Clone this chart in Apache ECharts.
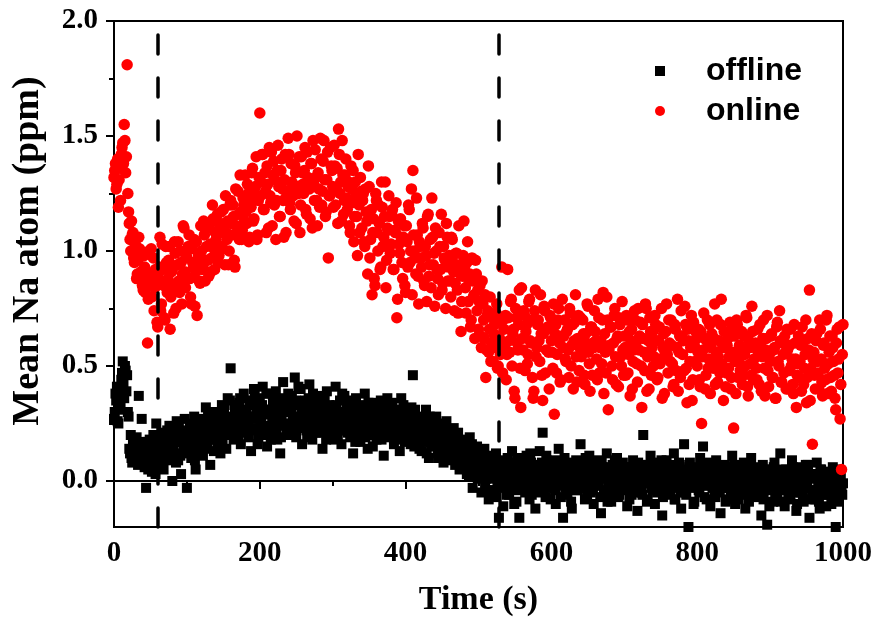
<!DOCTYPE html>
<html>
<head>
<meta charset="utf-8">
<title>Mean Na atom</title>
<script src="https://cdn.jsdelivr.net/npm/echarts@6/dist/echarts.min.js"></script>
<style>
  html, body { margin: 0; padding: 0; background: #fff; }
  #chart { width: 880px; height: 628px; }
</style>
</head>
<body>
<div id="chart"></div>
<script>
// recorder gives one reading per second; values are split into even and odd seconds
const sampleStep = 2;

// offline, t = 0, 2, 4 ... 1000 s
const offlineEven = [
  0.27, 0.38, 0.41, 0.25, 0.31, 0.44, 0.52, 0.36, 0.48, 0.46,
  0.28, 0.12, 0.10, 0.18, 0.14, 0.09, 0.15, 0.37, 0.11, 0.27,
  0.13, 0.06, -0.03, 0.17, 0.09, 0.14, 0.04, 0.20, 0.12, 0.25,
  0.08, 0.16, 0.11, 0.21, 0.05, 0.13, 0.18, 0.10, 0.24, 0.15,
  0.00, 0.19, 0.12, 0.26, 0.09, 0.17, 0.03, 0.22, 0.14, 0.20,
  -0.03, 0.16, 0.24, 0.10, 0.19, 0.28, 0.05, 0.13, 0.22, 0.17,
  0.26, 0.11, 0.20, 0.32, 0.15, 0.24, 0.07, 0.29, 0.18, 0.23,
  0.30, 0.16, 0.25, 0.12, 0.33, 0.21, 0.27, 0.14, 0.36, 0.22,
  0.49, 0.25, 0.18, 0.31, 0.23, 0.28, 0.34, 0.16, 0.26, 0.38,
  0.21, 0.30, 0.25, 0.35, 0.13, 0.28, 0.40, 0.22, 0.32, 0.19,
  0.36, 0.27, 0.41, 0.24, 0.31, 0.15, 0.38, 0.29, 0.22, 0.34,
  0.26, 0.39, 0.18, 0.32, 0.12, 0.28, 0.43, 0.24, 0.35, 0.20,
  0.30, 0.23, 0.37, 0.27, 0.45, 0.19, 0.33, 0.25, 0.40, 0.16,
  0.29, 0.35, 0.22, 0.31, 0.42, 0.26, 0.18, 0.34, 0.24, 0.30,
  0.37, 0.21, 0.28, 0.14, 0.33, 0.25, 0.39, 0.20, 0.30, 0.26,
  0.32, 0.18, 0.41, 0.27, 0.23, 0.35, 0.16, 0.29, 0.37, 0.22,
  0.26, 0.33, 0.19, 0.30, 0.12, 0.28, 0.36, 0.24, 0.31, 0.17,
  0.29, 0.22, 0.38, 0.25, 0.14, 0.32, 0.27, 0.20, 0.34, 0.23,
  0.18, 0.30, 0.26, 0.35, 0.21, 0.11, 0.28, 0.24, 0.33, 0.19,
  0.27, 0.34, 0.16, 0.25, 0.30, 0.22, 0.13, 0.36, 0.24, 0.20,
  0.29, 0.18, 0.26, 0.21, 0.32, 0.46, 0.15, 0.24, 0.19, 0.28,
  0.22, 0.13, 0.27, 0.18, 0.31, 0.20, 0.10, 0.25, 0.16, 0.23,
  0.19, 0.28, 0.12, 0.21, 0.15, 0.24, 0.08, 0.18, 0.26, 0.13,
  0.20, 0.11, 0.17, 0.23, 0.07, 0.15, 0.21, 0.05, 0.14, 0.18,
  0.10, 0.16, 0.03, 0.13, 0.19, 0.08, -0.03, 0.12, 0.06, 0.15,
  0.04, 0.11, -0.05, 0.08, 0.14, 0.01, 0.07, -0.08, 0.10, 0.03,
  0.06, -0.04, 0.12, 0.00, -0.16, 0.08, 0.02, -0.11, 0.05, -0.02,
  0.10, -0.06, 0.03, 0.13, -0.01, 0.07, -0.09, 0.04, -0.16, 0.09,
  0.00, 0.06, -0.05, 0.11, 0.02, -0.08, 0.08, -0.02, 0.05, -0.12,
  0.07, 0.01, 0.13, -0.04, 0.21, 0.03, -0.07, 0.09, -0.01, 0.05,
  -0.03, 0.08, 0.02, -0.10, 0.06, 0.14, -0.02, 0.04, -0.16, 0.10,
  0.01, -0.06, 0.07, 0.03, -0.12, 0.05, -0.01, 0.09, -0.04, 0.02,
  0.16, -0.03, 0.04, -0.08, 0.08, 0.00, 0.11, -0.05, 0.03, -0.10,
  0.05, -0.02, 0.09, 0.01, -0.14, 0.06, -0.06, 0.03, 0.12, -0.01,
  0.04, -0.09, 0.07, -0.03, 0.02, 0.10, -0.07, 0.05, -0.01, 0.08,
  -0.04, 0.03, -0.11, 0.06, 0.01, -0.06, 0.09, -0.02, 0.04, -0.13,
  0.02, 0.07, -0.05, 0.20, -0.01, 0.05, -0.08, 0.03, 0.11, -0.03,
  0.06, -0.10, 0.01, 0.08, -0.04, 0.03, -0.15, 0.05, -0.02, 0.09,
  -0.06, 0.02, 0.07, -0.03, 0.12, -0.08, 0.04, -0.01, 0.06, -0.12,
  0.03, 0.16, -0.05, 0.01, -0.20, 0.08, -0.02, 0.05, -0.09, 0.02,
  0.06, -0.04, 0.10, 0.00, 0.15, -0.07, 0.03, -0.02, 0.08, -0.11,
  0.01, 0.05, -0.06, 0.09, -0.01, 0.03, -0.14, 0.04, -0.03, 0.07,
  -0.08, 0.02, 0.06, -0.04, 0.11, -0.01, -0.10, 0.04, 0.00, -0.06,
  0.05, -0.02, 0.08, -0.12, 0.01, 0.04, -0.05, 0.10, -0.03, 0.02,
  -0.07, 0.06, -0.01, 0.03, -0.15, 0.07, -0.04, 0.01, -0.19, 0.05,
  -0.02, 0.04, -0.09, 0.08, 0.00, -0.05, 0.03, 0.12, -0.03, 0.01,
  -0.11, 0.05, -0.02, 0.02, -0.07, 0.09, -0.04, 0.00, -0.13, 0.03,
  0.06, -0.05, 0.01, -0.09, 0.04, -0.02, 0.07, -0.16, 0.02, -0.04,
  0.03, -0.08, 0.08, -0.01, -0.12, 0.05, -0.03, 0.01, -0.06, 0.04,
  -0.02, 0.02, -0.10, 0.06, -0.04, -0.20, 0.01, -0.07, 0.03, -0.05,
  -0.01
];

// offline, t = 1, 3, 5 ... 999 s
const offlineOdd = [
  0.30, 0.35, 0.26, 0.40, 0.33, 0.47, 0.42, 0.50, 0.39, 0.30,
  0.14, 0.20, 0.08, 0.16, 0.11, 0.19, 0.07, 0.13, 0.17, 0.10,
  0.15, 0.09, 0.12, 0.05, 0.18, 0.11, 0.07, 0.16, 0.03, 0.13,
  0.14, 0.10, 0.19, 0.07, 0.16, 0.12, 0.22, 0.09, 0.15, 0.18,
  0.13, 0.21, 0.08, 0.17, 0.24, 0.11, 0.19, 0.14, 0.27, 0.16,
  0.18, 0.12, 0.21, 0.15, 0.25, 0.09, 0.20, 0.26, 0.14, 0.23,
  0.19, 0.27, 0.14, 0.22, 0.30, 0.18, 0.25, 0.21, 0.13, 0.28,
  0.24, 0.19, 0.29, 0.23, 0.17, 0.31, 0.26, 0.20, 0.28, 0.35,
  0.27, 0.21, 0.33, 0.24, 0.30, 0.19, 0.36, 0.25, 0.29, 0.22,
  0.31, 0.26, 0.19, 0.33, 0.28, 0.23, 0.37, 0.27, 0.16, 0.30,
  0.25, 0.33, 0.20, 0.29, 0.38, 0.23, 0.31, 0.18, 0.27, 0.35,
  0.30, 0.22, 0.34, 0.27, 0.19, 0.36, 0.25, 0.31, 0.21, 0.38,
  0.24, 0.32, 0.28, 0.20, 0.35, 0.26, 0.41, 0.23, 0.30, 0.27,
  0.33, 0.25, 0.19, 0.36, 0.28, 0.23, 0.38, 0.30, 0.21, 0.34,
  0.26, 0.32, 0.23, 0.29, 0.36, 0.18, 0.27, 0.33, 0.24, 0.31,
  0.27, 0.24, 0.33, 0.20, 0.30, 0.26, 0.38, 0.22, 0.28, 0.34,
  0.21, 0.29, 0.25, 0.35, 0.23, 0.17, 0.31, 0.26, 0.20, 0.33,
  0.25, 0.30, 0.19, 0.28, 0.34, 0.22, 0.26, 0.15, 0.29, 0.24,
  0.27, 0.21, 0.32, 0.18, 0.25, 0.30, 0.20, 0.36, 0.23, 0.28,
  0.22, 0.29, 0.25, 0.18, 0.31, 0.20, 0.27, 0.23, 0.33, 0.17,
  0.24, 0.20, 0.29, 0.16, 0.26, 0.22, 0.31, 0.19, 0.25, 0.14,
  0.20, 0.26, 0.17, 0.23, 0.12, 0.21, 0.28, 0.15, 0.24, 0.19,
  0.16, 0.22, 0.10, 0.19, 0.25, 0.14, 0.20, 0.11, 0.17, 0.22,
  0.13, 0.18, 0.09, 0.16, 0.12, 0.20, 0.08, 0.15, 0.11, 0.06,
  0.14, 0.07, 0.11, 0.02, 0.10, 0.16, 0.05, 0.09, 0.13, 0.01,
  0.08, 0.02, 0.12, 0.05, -0.02, 0.09, 0.04, 0.11, -0.04, 0.06,
  0.01, 0.07, -0.07, 0.04, 0.09, -0.03, 0.05, 0.00, 0.08, -0.06,
  0.03, 0.08, -0.02, 0.05, -0.10, 0.01, 0.10, -0.04, 0.06, 0.00,
  0.04, -0.03, 0.09, -0.01, 0.05, 0.12, -0.06, 0.02, 0.07, -0.02,
  -0.05, 0.04, 0.00, 0.08, -0.03, 0.06, 0.11, -0.01, 0.03, -0.08,
  0.05, 0.01, -0.04, 0.09, -0.01, 0.03, -0.07, 0.06, 0.02, -0.03,
  0.07, -0.02, 0.04, -0.09, 0.02, 0.08, -0.04, 0.00, 0.05, -0.01,
  0.02, 0.06, -0.03, 0.10, -0.06, 0.03, -0.01, 0.07, -0.04, 0.04,
  -0.02, 0.05, 0.00, -0.07, 0.08, 0.02, -0.04, 0.06, -0.09, 0.03,
  0.01, -0.05, 0.04, 0.09, -0.02, 0.03, -0.06, 0.00, 0.07, -0.03,
  0.05, -0.01, 0.02, -0.08, 0.06, -0.03, 0.04, 0.00, -0.05, 0.08,
  -0.02, 0.03, -0.06, 0.05, 0.01, -0.09, 0.07, -0.01, 0.02, -0.04,
  0.04, 0.00, -0.05, 0.06, -0.02, 0.09, -0.07, 0.01, 0.05, -0.03,
  0.02, -0.04, 0.06, 0.00, -0.08, 0.04, -0.01, 0.08, -0.05, 0.03,
  -0.01, 0.05, -0.06, 0.02, 0.07, -0.03, 0.01, -0.10, 0.04, 0.00,
  0.03, -0.05, 0.01, 0.07, -0.02, 0.04, -0.08, 0.02, -0.01, 0.06,
  -0.03, 0.02, -0.07, 0.04, 0.00, -0.05, 0.06, -0.02, 0.03, -0.09,
  0.01, -0.03, 0.05, -0.06, 0.02, 0.07, -0.04, 0.00, -0.08, 0.04,
  -0.02, 0.03, -0.05, 0.01, 0.06, -0.09, 0.02, -0.03, 0.05, -0.01,
  0.02, -0.06, 0.04, -0.02, 0.00, -0.08, 0.05, -0.04, 0.01, -0.11,
  0.03, -0.03, 0.06, -0.07, 0.01, -0.02, 0.04, -0.09, 0.00, 0.05,
  -0.04, 0.02, -0.08, 0.03, -0.01, 0.06, -0.05, 0.01, -0.10, 0.02,
  -0.02, 0.04, -0.06, 0.00, 0.07, -0.03, 0.02, -0.08, 0.03, -0.05,
  0.01, -0.04, 0.03, -0.09, 0.05, -0.02, -0.06, 0.02, -0.11, 0.00,
  -0.03, 0.04, -0.07, 0.01, -0.02, 0.05, -0.09, -0.01, 0.02, -0.06
];

// online, t = 0, 2, 4 ... 1000 s
const onlineEven = [
  1.32, 1.38, 1.29, 1.19, 1.36, 1.42, 1.47, 1.55, 1.34, 1.81,
  1.17, 1.05, 1.13, 1.08, 0.95, 1.02, 0.90, 1.06, 0.89, 0.99,
  0.83, 0.93, 0.88, 0.60, 1.00, 0.86, 0.80, 0.97, 0.84, 0.90,
  0.67, 0.93, 0.74, 1.03, 0.85, 0.70, 0.95, 0.88, 1.02, 0.80,
  0.92, 0.73, 0.99, 0.86, 1.04, 0.82, 0.95, 0.90, 1.10, 0.84,
  0.97, 1.02, 0.88, 0.77, 0.95, 1.05, 0.91, 0.72, 0.98, 0.86,
  1.00, 0.93, 1.07, 0.96, 1.12, 0.89, 1.03, 0.97, 1.14, 0.92,
  1.05, 1.16, 0.98, 1.10, 1.02, 1.18, 0.94, 1.08, 1.13, 1.00,
  1.22, 1.07, 1.15, 0.93, 1.11, 1.26, 1.05, 1.17, 1.09, 1.20,
  1.33, 1.12, 1.25, 1.06, 1.19, 1.36, 1.14, 1.28, 1.05, 1.22,
  1.60, 1.30, 1.42, 1.18, 1.26, 1.37, 1.10, 1.24, 1.43, 1.33,
  1.20, 1.05, 1.35, 1.28, 1.15, 1.40, 1.22, 1.31, 1.08, 1.26,
  1.42, 1.18, 1.30, 1.24, 1.37, 1.12, 1.28, 1.41, 1.20, 1.34,
  1.25, 1.45, 1.16, 1.32, 1.27, 1.38, 1.10, 1.29, 1.44, 1.22,
  1.34, 1.19, 1.40, 1.26, 1.48, 1.15, 1.31, 0.97, 1.24, 1.37,
  1.28, 1.46, 1.20, 1.36, 1.53, 1.25, 1.13, 1.33, 1.22, 1.40,
  1.18, 1.30, 1.08, 1.27, 1.35, 1.15, 1.24, 0.98, 1.20, 1.32,
  1.10, 1.25, 1.02, 1.17, 0.90, 1.28, 1.05, 0.81, 1.14, 0.85,
  1.22, 1.00, 1.12, 0.93, 1.19, 1.06, 1.30, 0.96, 1.09, 1.15,
  1.03, 1.18, 0.92, 1.08, 0.71, 1.13, 0.99, 1.06, 0.88, 1.11,
  0.82, 1.04, 1.20, 0.95, 1.27, 1.35, 1.00, 0.90, 1.07, 0.77,
  1.02, 0.93, 1.10, 0.85, 0.98, 1.15, 0.89, 1.05, 1.23, 0.94,
  0.76, 1.00, 0.88, 1.08, 0.92, 0.83, 1.02, 0.96, 1.12, 0.87,
  0.98, 0.80, 1.05, 0.91, 0.86, 0.99, 0.73, 0.94, 0.65, 0.89,
  1.13, 0.84, 0.95, 0.78, 0.90, 0.70, 0.87, 0.81, 0.96, 0.74,
  0.66, 0.85, 0.58, 0.77, 0.62, 0.45, 0.72, 0.56, 0.80, 0.60,
  0.52, 0.68, 0.73, 0.49, 0.63, 0.55, 0.93, 0.70, 0.58, 0.44,
  0.92, 0.61, 0.78, 0.50, 0.66, 0.36, 0.71, 0.57, 0.83, 0.32,
  0.62, 0.74, 0.48, 0.68, 0.55, 0.79, 0.60, 0.45, 0.39, 0.83,
  0.58, 0.70, 0.52, 0.64, 0.35, 0.76, 0.47, 0.66, 0.56, 0.72,
  0.61, 0.49, 0.29, 0.68, 0.55, 0.75, 0.43, 0.63, 0.58, 0.70,
  0.52, 0.66, 0.45, 0.73, 0.59, 0.40, 0.69, 0.54, 0.62, 0.48,
  0.71, 0.57, 0.64, 0.42, 0.60, 0.76, 0.51, 0.67, 0.46, 0.58,
  0.65, 0.53, 0.79, 0.47, 0.61, 0.70, 0.38, 0.56, 0.80, 0.31,
  0.59, 0.67, 0.44, 0.72, 0.54, 0.62, 0.41, 0.68, 0.50, 0.57,
  0.63, 0.46, 0.70, 0.55, 0.37, 0.66, 0.52, 0.74, 0.60, 0.43,
  0.57, 0.69, 0.32, 0.62, 0.48, 0.75, 0.54, 0.40, 0.65, 0.58,
  0.50, 0.72, 0.61, 0.45, 0.67, 0.53, 0.36, 0.64, 0.56, 0.77,
  0.47, 0.60, 0.70, 0.51, 0.42, 0.66, 0.58, 0.39, 0.63, 0.74,
  0.55, 0.48, 0.68, 0.34, 0.61, 0.52, 0.72, 0.44, 0.59, 0.65,
  0.50, 0.66, 0.41, 0.25, 0.57, 0.62, 0.46, 0.70, 0.53, 0.38,
  0.64, 0.49, 0.77, 0.56, 0.43, 0.61, 0.68, 0.51, 0.35, 0.58,
  0.47, 0.62, 0.54, 0.40, 0.66, 0.23, 0.52, 0.70, 0.45, 0.59,
  0.56, 0.42, 0.63, 0.50, 0.71, 0.37, 0.58, 0.46, 0.65, 0.53,
  0.60, 0.44, 0.55, 0.68, 0.39, 0.62, 0.49, 0.57, 0.72, 0.41,
  0.52, 0.64, 0.45, 0.58, 0.36, 0.69, 0.50, 0.61, 0.43, 0.55,
  0.63, 0.40, 0.57, 0.48, 0.66, 0.53, 0.38, 0.60, 0.32, 0.51,
  0.45, 0.59, 0.67, 0.42, 0.55, 0.34, 0.62, 0.83, 0.49, 0.16,
  0.56, 0.40, 0.64, 0.47, 0.70, 0.53, 0.37, 0.60, 0.44, 0.72,
  0.51, 0.63, 0.39, 0.58, 0.46, 0.31, 0.66, 0.53, 0.27, 0.05,
  0.68
];

// online, t = 1, 3, 5 ... 999 s
const onlineOdd = [
  1.35, 1.27, 1.40, 1.31, 1.22, 1.45, 1.38, 1.48, 1.41, 1.25,
  1.12, 1.00, 1.07, 0.97, 1.03, 0.88, 0.96, 1.01, 0.91, 0.85,
  0.98, 0.82, 0.91, 0.79, 0.87, 1.01, 0.85, 0.74, 0.92, 0.69,
  0.88, 1.06, 0.77, 0.92, 0.71, 1.02, 0.82, 0.96, 0.66, 0.91,
  0.84, 1.04, 0.75, 0.94, 0.87, 1.00, 0.77, 1.11, 0.91, 0.98,
  0.88, 1.07, 0.80, 1.01, 0.93, 0.76, 1.04, 0.94, 0.87, 1.11,
  0.92, 1.13, 0.87, 1.02, 0.96, 1.10, 0.91, 1.20, 1.01, 1.08,
  1.13, 0.95, 1.08, 1.17, 1.01, 1.12, 1.24, 1.05, 0.94, 1.20,
  1.12, 1.20, 0.96, 1.27, 1.08, 1.16, 1.33, 1.05, 1.23, 1.13,
  1.17, 1.29, 1.04, 1.22, 1.34, 1.13, 1.25, 1.41, 1.07, 1.32,
  1.24, 1.42, 1.18, 1.34, 1.08, 1.29, 1.45, 1.21, 1.11, 1.39,
  1.31, 1.22, 1.46, 1.15, 1.35, 1.27, 1.06, 1.42, 1.24, 1.49,
  1.21, 1.38, 1.28, 1.13, 1.34, 1.50, 1.25, 1.08, 1.41, 1.29,
  1.35, 1.18, 1.43, 1.28, 1.14, 1.38, 1.48, 1.22, 1.32, 1.11,
  1.27, 1.49, 1.20, 1.39, 1.31, 1.17, 1.43, 1.24, 1.45, 1.35,
  1.19, 1.37, 1.27, 1.12, 1.42, 1.30, 1.48, 1.16, 1.33, 1.23,
  1.28, 1.11, 1.37, 1.21, 1.04, 1.30, 1.15, 1.42, 1.08, 1.26,
  1.22, 1.04, 1.27, 1.13, 1.37, 0.97, 1.18, 1.08, 0.88, 1.25,
  1.08, 1.20, 0.92, 1.30, 1.02, 1.15, 0.84, 1.10, 1.24, 0.99,
  1.16, 0.92, 1.09, 1.21, 0.79, 1.03, 1.14, 0.95, 1.06, 0.85,
  1.11, 0.93, 1.18, 1.00, 0.81, 1.07, 0.97, 1.23, 0.89, 1.04,
  0.97, 1.12, 0.87, 1.02, 0.78, 1.16, 0.94, 0.84, 1.06, 0.99,
  1.10, 0.92, 0.81, 1.02, 1.16, 0.86, 0.97, 0.75, 1.06, 0.93,
  0.87, 1.06, 0.95, 0.74, 0.99, 0.83, 1.11, 0.90, 0.78, 0.98,
  0.93, 0.73, 1.04, 0.87, 0.67, 0.97, 0.80, 0.62, 0.90, 0.83,
  0.78, 0.63, 0.87, 0.70, 0.81, 0.57, 0.74, 0.66, 0.52, 0.71,
  0.64, 0.58, 0.77, 0.50, 0.69, 0.61, 0.47, 0.66, 0.72, 0.55,
  0.71, 0.56, 0.79, 0.64, 0.39, 0.75, 0.60, 0.68, 0.49, 0.84,
  0.57, 0.72, 0.65, 0.51, 0.78, 0.61, 0.70, 0.36, 0.74, 0.54,
  0.68, 0.61, 0.81, 0.46, 0.64, 0.74, 0.57, 0.67, 0.40, 0.71,
  0.56, 0.77, 0.64, 0.47, 0.70, 0.60, 0.44, 0.79, 0.63, 0.53,
  0.65, 0.57, 0.75, 0.50, 0.68, 0.61, 0.81, 0.43, 0.72, 0.58,
  0.54, 0.70, 0.46, 0.64, 0.77, 0.56, 0.39, 0.67, 0.60, 0.74,
  0.61, 0.44, 0.71, 0.58, 0.51, 0.82, 0.64, 0.47, 0.70, 0.57,
  0.67, 0.50, 0.60, 0.75, 0.42, 0.63, 0.71, 0.54, 0.78, 0.46,
  0.58, 0.72, 0.47, 0.65, 0.61, 0.40, 0.57, 0.70, 0.51, 0.75,
  0.63, 0.50, 0.68, 0.56, 0.77, 0.39, 0.61, 0.71, 0.46, 0.65,
  0.54, 0.68, 0.44, 0.61, 0.51, 0.75, 0.58, 0.38, 0.65, 0.55,
  0.70, 0.52, 0.59, 0.41, 0.68, 0.48, 0.79, 0.56, 0.45, 0.63,
  0.61, 0.76, 0.49, 0.66, 0.42, 0.58, 0.35, 0.69, 0.52, 0.62,
  0.56, 0.44, 0.65, 0.54, 0.73, 0.40, 0.61, 0.49, 0.68, 0.58,
  0.51, 0.62, 0.42, 0.70, 0.54, 0.47, 0.79, 0.58, 0.65, 0.41,
  0.59, 0.49, 0.69, 0.45, 0.56, 0.63, 0.38, 0.68, 0.52, 0.48,
  0.65, 0.46, 0.55, 0.72, 0.41, 0.61, 0.51, 0.76, 0.44, 0.58,
  0.49, 0.66, 0.42, 0.59, 0.54, 0.70, 0.37, 0.62, 0.48, 0.55,
  0.63, 0.45, 0.57, 0.36, 0.67, 0.52, 0.74, 0.43, 0.60, 0.47,
  0.56, 0.66, 0.40, 0.59, 0.50, 0.42, 0.68, 0.53, 0.46, 0.63,
  0.52, 0.39, 0.60, 0.49, 0.70, 0.45, 0.57, 0.35, 0.64, 0.53,
  0.46, 0.61, 0.52, 0.40, 0.66, 0.43, 0.59, 0.49, 0.70, 0.38,
  0.56, 0.45, 0.63, 0.52, 0.36, 0.60, 0.47, 0.67, 0.42, 0.55
];

// dashed markers (s)
const markerTimes = [60, 528];

const xTicks = [0, 200, 400, 600, 800, 1000];
const yTicks = [0, 0.5, 1.0, 1.5, 2.0];
const yMinorTicks = [0.25, 0.75, 1.25, 1.75];

// even and odd readings back onto one time line
function toPoints(even, odd) {
  let pts = [];
  for (let i = 0; i < even.length; i++) {
    pts.push([i * sampleStep, even[i]]);
    if (i < odd.length) pts.push([i * sampleStep + 1, odd[i]]);
  }
  return pts;
}

const serif = '"Liberation Serif", "Times New Roman", serif';
const labelStyle = {
  color: '#000',
  fontFamily: serif,
  fontWeight: 'bold',
  fontSize: 29
};

let chart = echarts.init(document.getElementById('chart'), null, { renderer: 'canvas' });

let option = {
  backgroundColor: '#fff',
  animation: false,
  grid: {
    left: 114,
    right: 37,
    top: 21,
    bottom: 101,
    show: true,
    borderColor: '#000',
    borderWidth: 2
  },
  legend: {
    orient: 'vertical',
    left: 650,
    top: 50,
    itemWidth: 10,
    itemHeight: 10,
    itemGap: 8,
    textStyle: {
      color: '#000',
      fontFamily: '"Liberation Sans", Arial, sans-serif',
      fontWeight: 'bold',
      fontSize: 32,
      padding: [0, 0, 0, 36]
    },
    data: [
      { name: 'offline', icon: 'rect' },
      { name: 'online', icon: 'circle' }
    ]
  },
  xAxis: {
    type: 'value',
    min: 0,
    max: 1000,
    interval: 200,
    name: 'Time (s)',
    nameLocation: 'middle',
    nameGap: 56,
    nameTextStyle: Object.assign({}, labelStyle, { fontSize: 34 }),
    axisLine: { lineStyle: { color: '#000', width: 2 } },
    axisTick: { show: true, inside: false, length: 8, lineStyle: { color: '#000', width: 2 } },
    minorTick: { show: true, splitNumber: 2, length: 5, lineStyle: { color: '#000', width: 2 } },
    axisLabel: Object.assign({
      margin: 12,
      customValues: xTicks,
      formatter: function (v) { return String(v); }
    }, labelStyle),
    splitLine: { show: false }
  },
  yAxis: [{
    type: 'value',
    min: -0.2,
    max: 2.0,
    name: 'Mean Na atom (ppm)',
    nameLocation: 'middle',
    nameGap: 67,
    nameTextStyle: Object.assign({}, labelStyle, { fontSize: 38, padding: [0, 0, 0, 46] }),
    axisLine: { show: true, lineStyle: { color: '#000', width: 2 } },
    axisTick: { show: true, length: 8, customValues: yTicks, lineStyle: { color: '#000', width: 2 } },
    axisLabel: Object.assign({
      margin: 16,
      customValues: yTicks,
      formatter: function (v) { return v.toFixed(1); }
    }, labelStyle),
    splitLine: { show: false }
  }, {
    // minor ticks only
    type: 'value',
    min: -0.2,
    max: 2.0,
    position: 'left',
    axisLine: { show: false },
    axisTick: { show: true, length: 5, customValues: yMinorTicks, lineStyle: { color: '#000', width: 2 } },
    axisLabel: { show: false },
    splitLine: { show: false }
  }],
  series: [{
    name: 'offline',
    type: 'scatter',
    symbol: 'rect',
    symbolSize: 10,
    itemStyle: { color: '#000', opacity: 1 },
    data: toPoints(offlineEven, offlineOdd),
    markLine: {
      silent: true,
      symbol: 'none',
      label: { show: false },
      lineStyle: { color: '#000', width: 3.5, type: [19, 24], cap: 'round' },
      data: markerTimes.map(t => ({ xAxis: t }))
    }
  }, {
    name: 'online',
    type: 'scatter',
    symbol: 'circle',
    symbolSize: 11.5,
    itemStyle: { color: '#ff0000', opacity: 1 },
    data: toPoints(onlineEven, onlineOdd)
  }]
};

chart.setOption(option);
</script>
</body>
</html>
